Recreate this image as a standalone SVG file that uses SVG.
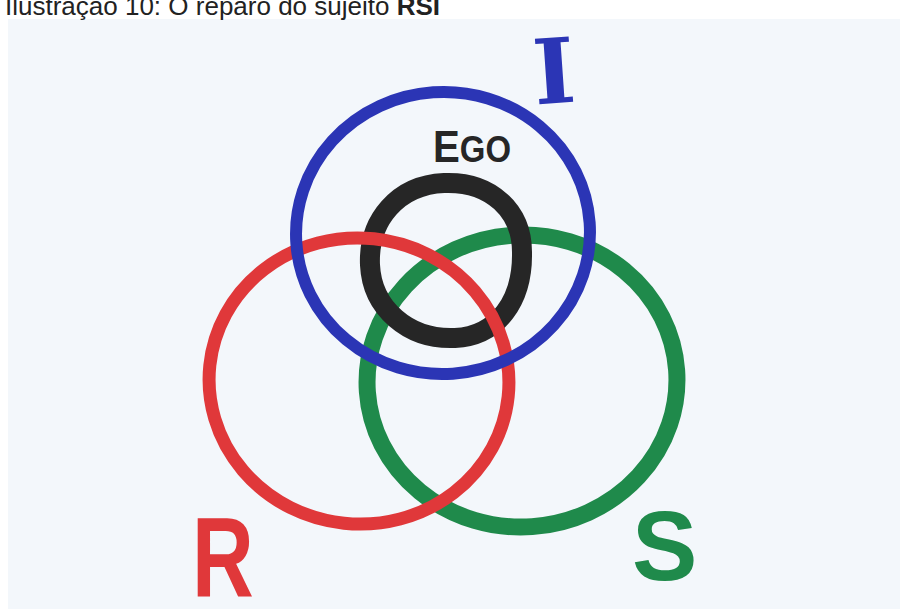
<svg xmlns="http://www.w3.org/2000/svg" width="904" height="609" viewBox="0 0 904 609">
<style>
.ring{fill:none;stroke-linecap:round;stroke-linejoin:round}
.lbl{font-family:"Liberation Sans","DejaVu Sans",sans-serif;font-weight:bold}
.cap{font-family:"Liberation Sans",Arial,sans-serif;font-size:26px;fill:#222}
</style>
<rect x="0" y="0" width="904" height="609" fill="#ffffff"/>
<rect x="8" y="19" width="892" height="590" fill="#f3f7fb"/>
<text class="cap" x="5" y="15">Ilustração 10: O reparo do sujeito <tspan font-weight="bold">RSI</tspan></text>
<g id="connectors"/>
<g id="ring-S">
<ellipse class="ring" cx="522" cy="381" rx="155" ry="146" stroke="#1f8a4b" stroke-width="17" transform="rotate(-4 522 381)"/>
</g>
<g id="ring-Ego">
<path class="ring" d="M444 183 C492 181 522 212 522 252 C523 300 498 336 455 338 C408 340 372 308 370 265 C368 220 398 185 444 183 Z" stroke="#262626" stroke-width="20"/>
</g>
<g id="ring-R">
<ellipse class="ring" cx="359" cy="381" rx="150" ry="143" stroke="#e0383a" stroke-width="13" transform="rotate(6 359 381)"/>
</g>
<g id="ring-I">
<ellipse class="ring" cx="443" cy="233" rx="147" ry="141" stroke="#2b35b5" stroke-width="12" transform="rotate(-4 443 233)"/>
</g>
<g id="label-I">
<text x="554" y="103" text-anchor="middle" font-family="'DejaVu Serif',serif" font-weight="bold" font-size="90" fill="#2b35b5" transform="rotate(-4 554 70)">I</text>
</g>
<g id="label-Ego">
<text class="lbl" x="433" y="162" fill="#262626" textLength="78" lengthAdjust="spacingAndGlyphs"><tspan font-size="44">E</tspan><tspan font-size="36">GO</tspan></text>
</g>
<g id="label-R">
<text class="lbl" font-size="114" fill="#e0383a" transform="translate(192 597) scale(0.75 1)">R</text>
</g>
<g id="label-S">
<text class="lbl" x="632" y="580" font-size="98" fill="#1f8a4b">S</text>
</g>
</svg>
